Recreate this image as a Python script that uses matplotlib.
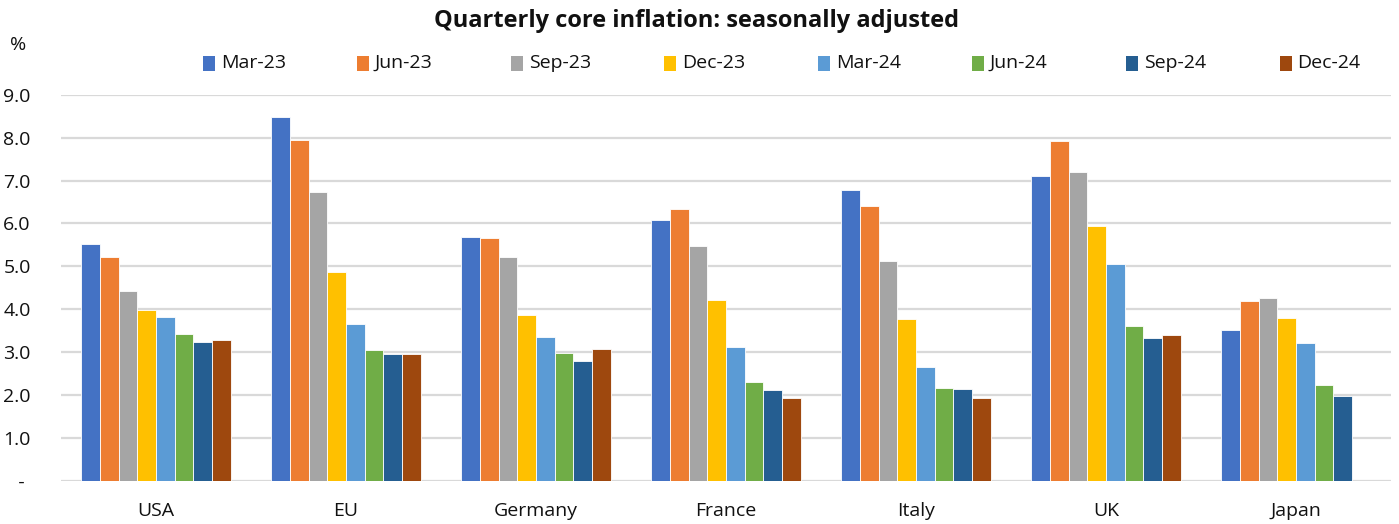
import numpy as np
import matplotlib
matplotlib.use("Agg")
import matplotlib.pyplot as plt
from matplotlib.patches import Rectangle
from matplotlib.ticker import FuncFormatter

plt.rcParams['font.family'] = ['Open Sans', 'DejaVu Sans']

countries = ["USA", "EU", "Germany", "France", "Italy", "UK", "Japan"]
quarters = ["Mar-23", "Jun-23", "Sep-23", "Dec-23", "Mar-24", "Jun-24", "Sep-24", "Dec-24"]

mar23 = [5.52, 8.49, 5.68, 6.07, 6.78, 7.11, 3.52]
jun23 = [5.23, 7.94, 5.66, 6.33, 6.41, 7.93, 4.20]
sep23 = [4.42, 6.74, 5.22, 5.47, 5.13, 7.20, 4.27]
dec23 = [3.99, 4.86, 3.86, 4.21, 3.77, 5.95, 3.80]
mar24 = [3.81, 3.66, 3.35, 3.12, 2.66, 5.05, 3.21]
jun24 = [3.43, 3.06, 2.98, 2.31, 2.17, 3.62, 2.24]
sep24 = [3.24, 2.95, 2.80, 2.13, 2.14, 3.33, 1.99]
dec24 = [3.29, 2.95, 3.08, 1.93, 1.94, 3.39, np.nan]

series = [mar23, jun23, sep23, dec23, mar24, jun24, sep24, dec24]
colors = ["#4472C4", "#ED7D31", "#A5A5A5", "#FFC000",
          "#5B9BD5", "#70AD47", "#255E91", "#9E480E"]

W, H = 1399, 524
fig = plt.figure(figsize=(W / 100, H / 100), dpi=100)
ax = fig.add_axes([61 / W, 43 / H, (1391 - 61) / W, (481 - 94.7) / H])

x = np.arange(len(countries))
group = 0.785
w = group / len(series)
for j, (vals, c) in enumerate(zip(series, colors)):
    ax.bar(x + (j - 3.5) * w, vals, width=w, color=c,
           edgecolor="white", linewidth=0.6, zorder=3)

ax.set_xlim(-0.5, len(countries) - 0.5)
ax.set_ylim(0, 9)
ax.set_yticks(np.arange(0, 10, 1))
ax.yaxis.set_major_formatter(FuncFormatter(lambda v, p: "   -" if v == 0 else f"{v:.1f}"))
ax.grid(axis="y", color="#d9d9d9", linewidth=1.6, zorder=0)
for s in ax.spines.values():
    s.set_visible(False)
ax.tick_params(axis="both", length=0, labelsize=14, colors="#111111")
ax.tick_params(axis="y", pad=41.5)
ax.tick_params(axis="x", pad=15)
ax.set_xticks(x)
ax.set_xticklabels(countries)
for lab in ax.get_yticklabels():
    lab.set_horizontalalignment("left")

fig.text(18 / W, 1 - 45 / H, "%", fontsize=14, ha="center", va="center", color="#111111")
fig.text(697 / W, 1 - 21 / H, "Quarterly core inflation: seasonally adjusted",
         fontsize=17, fontweight="bold", ha="center", va="center", color="#111111")

# legend row: square swatch followed by its label, evenly spaced
leg_y = 1 - 63 / H
for k, (name, c) in enumerate(zip(quarters, colors)):
    x0 = 203 + 153.8 * k
    fig.add_artist(Rectangle((x0 / W, leg_y - 7.5 / H), 12 / W, 15 / H,
                             transform=fig.transFigure, facecolor=c, edgecolor="none"))
    fig.text((x0 + 18) / W, leg_y, name, fontsize=14, ha="left", va="center", color="#111111")

fig.savefig("out.png", dpi=100)
